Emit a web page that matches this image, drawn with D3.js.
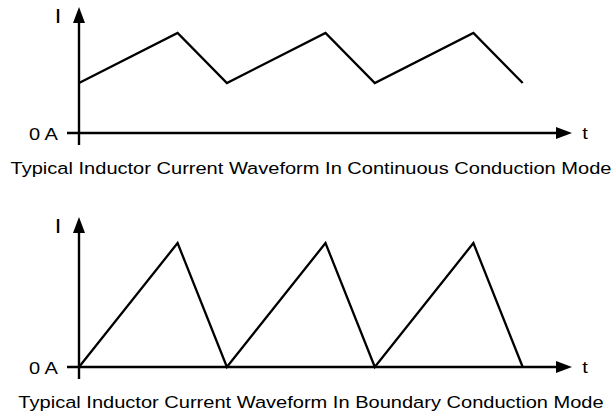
<!DOCTYPE html>
<html>
<head>
<meta charset="utf-8">
<script src="https://cdn.jsdelivr.net/npm/d3@7"></script>
<style>
  body { margin: 0; background: #fff; }
  svg text { font-family: "Liberation Sans", Arial, sans-serif; fill: #000; }
</style>
</head>
<body>
<div id="chart"></div>
<script>
// time points (in arbitrary units) shared by both waveforms
const times = [0, 2, 3, 5, 6, 8, 9];
// inductor current, continuous mode (never reaches zero)
const ccmCurrent = [1, 2, 1, 2, 1, 2, 1];
// inductor current, boundary mode (drops to zero each cycle)
const bcmCurrent = [0, 2, 0, 2, 0, 2, 0];

const captions = [
  "Typical Inductor Current Waveform In Continuous Conduction Mode",
  "Typical Inductor Current Waveform In Boundary Conduction Mode"
];
const zeroLabel = "0 A";
const yLabel = "I";
const xLabel = "t";

const width = 616, height = 417;
// the original picture is a bit stretched sideways, text included
const stretch = 1.18;

const svg = d3.select("#chart")
  .append("svg")
  .attr("width", width)
  .attr("height", height);

// each panel gets its own scales, they're laid out top / bottom
const panels = [
  { values: ccmCurrent, caption: captions[0], yMax: 2.52, yRange: [133, 7], capY: 174 },
  { values: bcmCurrent, caption: captions[1], yMax: 2.42, yRange: [367, 217], capY: 408 }
];

const xScale = d3.scaleLinear().domain([0, 10]).range([79, 572]);

// helper for sideways-stretched text
function stretchedText(g, x, y, anchor, size, str) {
  return g.append("text")
    .attr("transform", `translate(${x},${y}) scale(${stretch},1)`)
    .attr("text-anchor", anchor)
    .style("font-size", size + "px")
    .text(str);
}

panels.forEach(function(p) {
  const yScale = d3.scaleLinear().domain([0, p.yMax]).range(p.yRange);
  const g = svg.append("g");

  const x0 = xScale(0), y0 = yScale(0);
  const xEnd = xScale(10), yEnd = yScale(p.yMax);

  // x axis (starts a bit left of the y axis so it looks like a tick)
  g.append("line")
    .attr("x1", x0 - 12).attr("x2", xEnd - 14)
    .attr("y1", y0).attr("y2", y0)
    .attr("stroke", "#000").attr("stroke-width", 2.4);
  g.append("path")
    .attr("d", `M${xEnd},${y0} L${xEnd - 16},${y0 - 6} L${xEnd - 16},${y0 + 6} Z`)
    .attr("fill", "#000");

  // y axis
  g.append("line")
    .attr("x1", x0).attr("x2", x0)
    .attr("y1", y0 + 12).attr("y2", yEnd + 14)
    .attr("stroke", "#000").attr("stroke-width", 2.4);
  g.append("path")
    .attr("d", `M${x0},${yEnd} L${x0 - 6},${yEnd + 16} L${x0 + 6},${yEnd + 16} Z`)
    .attr("fill", "#000");

  // the waveform itself
  const line = d3.line()
    .x((d, i) => xScale(times[i]))
    .y(d => yScale(d));

  g.append("path")
    .datum(p.values)
    .attr("fill", "none")
    .attr("stroke", "#000")
    .attr("stroke-width", 2.3)
    .attr("stroke-linejoin", "miter")
    .attr("d", line);

  // labels
  stretchedText(g, x0 - 21, y0 + 7, "end", 17, zeroLabel);
  stretchedText(g, x0 - 21, yEnd + 16, "middle", 20, yLabel);
  stretchedText(g, xEnd + 13, y0 + 6, "middle", 17, xLabel);
  stretchedText(g, width / 2 + 3, p.capY, "middle", 17, p.caption);
});
</script>
</body>
</html>
